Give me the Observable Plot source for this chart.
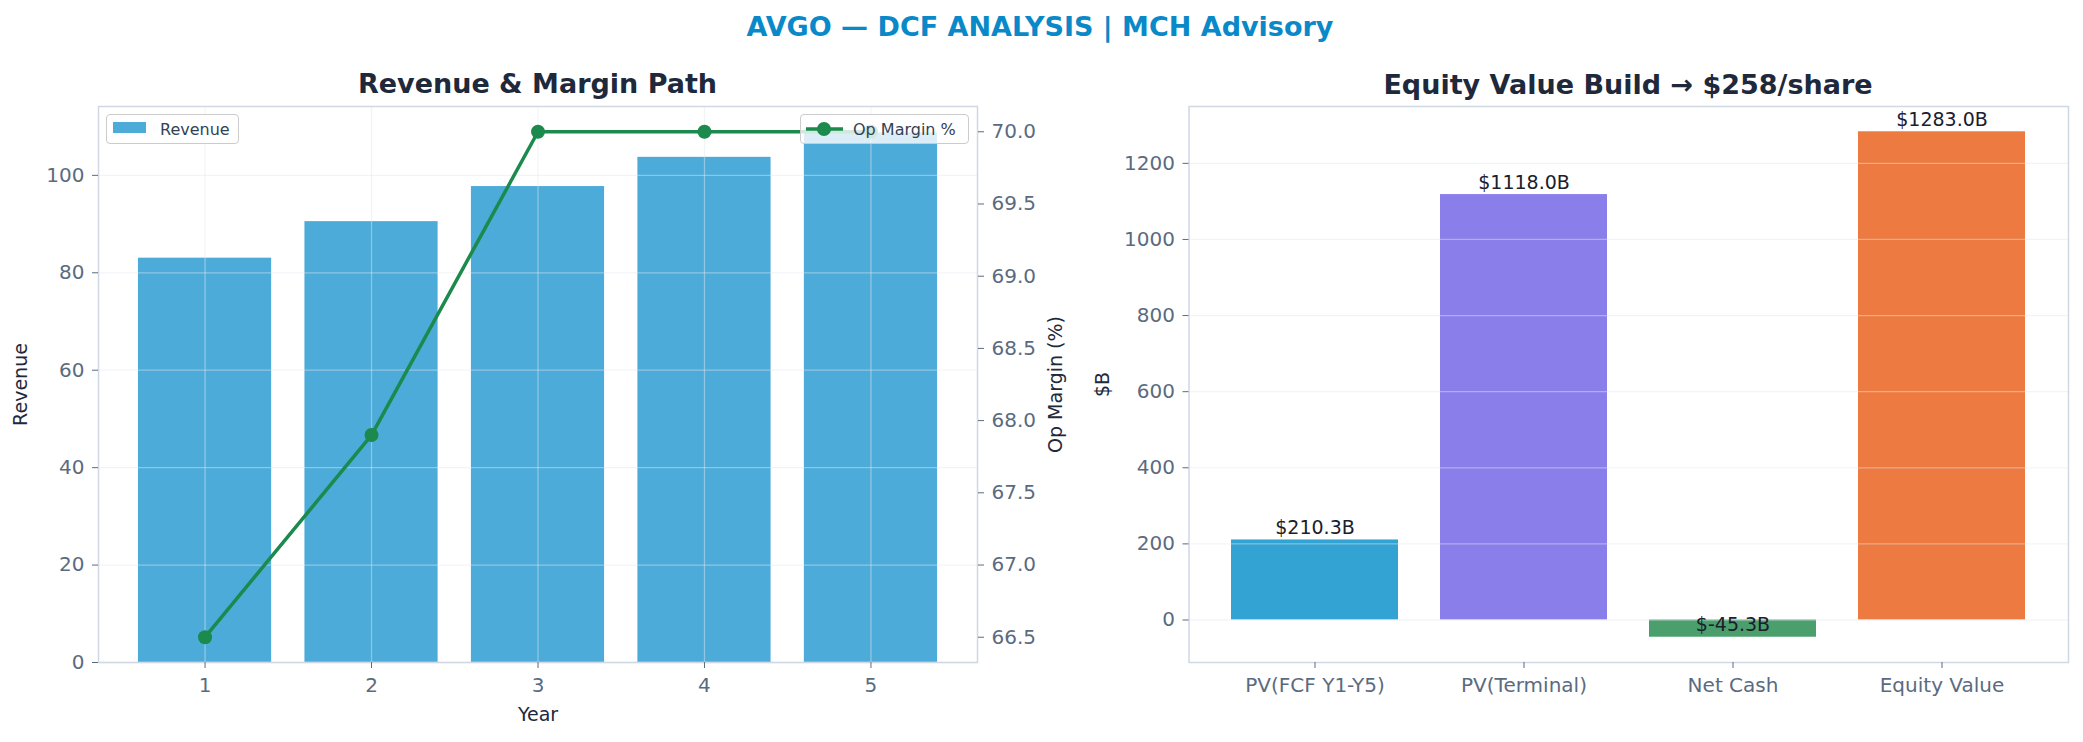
<!DOCTYPE html>
<html>
<head>
<meta charset="utf-8">
<script src="https://cdn.jsdelivr.net/npm/d3@7"></script>
<script src="https://cdn.jsdelivr.net/npm/@observablehq/plot@0.6"></script>
<style>
  html, body { margin: 0; padding: 0; background: #ffffff; }
  #root { position: relative; width: 2083px; height: 742px; overflow: hidden; font-family: "DejaVu Sans", sans-serif; }
  .layer { position: absolute; top: 0; }
  .title { position: absolute; transform: translate(-50%, -50%); white-space: nowrap; font-weight: bold; font-family: "DejaVu Sans", sans-serif; }
  .legend { position: absolute; box-sizing: border-box; border: 1.3px solid #cccccc; border-radius: 4px; background: rgba(255,255,255,0.8); height: 30px; top: 114px; }
  .legend .lbl { position: absolute; top: 50%; transform: translateY(-50%); font-size: 16px; color: #334155; white-space: nowrap; font-family: "DejaVu Sans", sans-serif; }
  .legend .sw { position: absolute; }
</style>
</head>
<body>
<div id="root">
  <div class="title" id="mainTitle" style="left:1040px; top:26px; font-size:27px; color:#0a89c9;"></div>
  <div class="title" id="leftTitle" style="left:537.5px; top:83px; font-size:27px; color:#1e293b;"></div>
  <div class="title" id="rightTitle" style="left:1628px; top:84px; font-size:27px; color:#1e293b;"></div>
</div>
<script>
// ---------- data ----------
const mainTitle = "AVGO — DCF ANALYSIS | MCH Advisory";
const leftTitle = "Revenue & Margin Path";
const rightTitle = "Equity Value Build → $258/share";

const years = [1, 2, 3, 4, 5];
const revenue = [83.0, 90.5, 97.7, 103.7, 108.7];
const opMargin = [66.5, 67.9, 70.0, 70.0, 70.0];
const revenueTicks = [0, 20, 40, 60, 80, 100];
const marginTicks = [66.5, 67.0, 67.5, 68.0, 68.5, 69.0, 69.5, 70.0];

const components = ["PV(FCF Y1-Y5)", "PV(Terminal)", "Net Cash", "Equity Value"];
const componentValues = [210.3, 1118.0, -45.3, 1283.0];
const equityTicks = [0, 200, 400, 600, 800, 1000, 1200];

// ---------- styles ----------
const revColor = "#4cabd8";
const lineColor = "#1b8a4c";
const barColors = ["#33a3d3", "#8a7fea", "#4a9f6c", "#ed7b41"];
const tickColor = "#5b6b7f";
const labelColor = "#1e293b";
const frameColor = "#cfd8e3";
const gridColor = "#e2e8f0";

const revData = years.map((y, i) => ({year: y, revenue: revenue[i], margin: opMargin[i]}));
const eqData = components.map((c, i) => ({name: c, value: componentValues[i]}));

const baseStyle = {fontFamily: "DejaVu Sans", fontSize: "20px", color: tickColor, background: "transparent", overflow: "visible"};
const H = 742, MT = 106, MB = 80;

document.getElementById("mainTitle").textContent = mainTitle;
document.getElementById("leftTitle").textContent = leftTitle;
document.getElementById("rightTitle").textContent = rightTitle;

// padding like matplotlib (5% margins)
const revMax = d3.max(revenue) * 1.05;
const mExt = d3.extent(opMargin), mPad = (mExt[1] - mExt[0]) * 0.05;
const eExt = d3.extent(componentValues), ePad = (eExt[1] - eExt[0]) * 0.05;
const xExt = [d3.min(years) - 0.4, d3.max(years) + 0.4], xPad = (xExt[1] - xExt[0]) * 0.05;

// ---------- left: revenue bars ----------
const left = Plot.plot({
  width: 1041, height: H, marginLeft: 98, marginRight: 64, marginTop: MT, marginBottom: MB,
  style: baseStyle,
  x: {domain: [xExt[0] - xPad, xExt[1] + xPad]},
  y: {domain: [0, revMax]},
  marks: [
    Plot.rect(revData, {x1: d => d.year - 0.4, x2: d => d.year + 0.4, y1: 0, y2: "revenue", fill: revColor}),
    Plot.gridY(revenueTicks, {stroke: gridColor, strokeOpacity: 0.45, strokeWidth: 1.3}),
    Plot.gridX(years, {stroke: gridColor, strokeOpacity: 0.45, strokeWidth: 1.3}),
    Plot.frame({stroke: frameColor, strokeWidth: 1.5}),
    Plot.axisY(revenueTicks, {tickSize: 6, tickPadding: 8, tickFormat: d => String(d), label: null, fontSize: 20}),
    Plot.axisX(years, {tickSize: 6, tickPadding: 9, tickFormat: d => String(d), label: null, fontSize: 20}),
    Plot.text(["Revenue"], {text: d => d, frameAnchor: "left", dx: -78, rotate: -90, textAnchor: "middle", lineAnchor: "middle", fill: labelColor, fontSize: 19}),
    Plot.text(["Year"], {text: d => d, frameAnchor: "bottom", dy: 52, textAnchor: "middle", lineAnchor: "middle", fill: labelColor, fontSize: 19})
  ]
});
left.classList.add("layer");
left.style.left = "0px";

// ---------- left overlay: op margin (twin axis) ----------
const overlay = Plot.plot({
  width: 1100, height: H, marginLeft: 98, marginRight: 123, marginTop: MT, marginBottom: MB,
  style: baseStyle,
  x: {domain: [xExt[0] - xPad, xExt[1] + xPad], axis: null},
  y: {domain: [mExt[0] - mPad, mExt[1] + mPad]},
  marks: [
    Plot.line(revData, {x: "year", y: "margin", stroke: lineColor, strokeWidth: 3.5}),
    Plot.dot(revData, {x: "year", y: "margin", r: 7, fill: lineColor, stroke: "none"}),
    Plot.axisY(marginTicks, {anchor: "right", tickSize: 6, tickPadding: 8, tickFormat: d3.format(".1f"), label: null, fontSize: 20}),
    Plot.text(["Op Margin (%)"], {text: d => d, frameAnchor: "right", dx: 78, rotate: -90, textAnchor: "middle", lineAnchor: "middle", fill: labelColor, fontSize: 19})
  ]
});
overlay.classList.add("layer");
overlay.style.left = "0px";

// ---------- right: equity build ----------
const right = Plot.plot({
  width: 1013, height: H, marginLeft: 118.5, marginRight: 15, marginTop: MT, marginBottom: MB,
  style: baseStyle,
  x: {domain: components, paddingInner: 0.2, paddingOuter: 0.2},
  y: {domain: [eExt[0] - ePad, eExt[1] + ePad]},
  color: {domain: components, range: barColors},
  marks: [
    Plot.barY(eqData, {x: "name", y: "value", fill: "name"}),
    Plot.gridY(equityTicks, {stroke: gridColor, strokeOpacity: 0.45, strokeWidth: 1.3}),
    Plot.frame({stroke: frameColor, strokeWidth: 1.5}),
    Plot.axisY(equityTicks, {tickSize: 6, tickPadding: 8, tickFormat: d => String(d), label: null, fontSize: 20}),
    Plot.axisX({tickSize: 6, tickPadding: 9, label: null, fontSize: 20}),
    Plot.text(eqData, {x: "name", y: "value", text: d => `$${d.value.toFixed(1)}B`, lineAnchor: "bottom", dy: -6, fill: "#1a202c", fontSize: 19}),
    Plot.text(["$B"], {text: d => d, frameAnchor: "left", dx: -86.5, rotate: -90, textAnchor: "middle", lineAnchor: "middle", fill: labelColor, fontSize: 19})
  ]
});
right.classList.add("layer");
right.style.left = "1070px";

const root = document.getElementById("root");
root.appendChild(left);
root.appendChild(right);
root.appendChild(overlay);

// ---------- legends (HTML) ----------
function legendBox(leftPx, widthPx, swatchHTML, label, textLeft) {
  const div = document.createElement("div");
  div.className = "legend";
  div.style.left = leftPx + "px";
  div.style.width = widthPx + "px";
  div.innerHTML = swatchHTML + `<span class="lbl" style="left:${textLeft}px"></span>`;
  div.querySelector(".lbl").textContent = label;
  root.appendChild(div);
}
legendBox(106, 133,
  `<span class="sw" style="left:6px; top:7px; width:33px; height:11px; background:${revColor}"></span>`,
  "Revenue", 53);
legendBox(800, 169,
  `<svg class="sw" style="left:4px; top:0px" width="40" height="28"><line x1="1" x2="38" y1="14" y2="14" stroke="${lineColor}" stroke-width="3.5"/><circle cx="19" cy="14" r="7" fill="${lineColor}"/></svg>`,
  "Op Margin %", 52);
</script>
</body>
</html>
